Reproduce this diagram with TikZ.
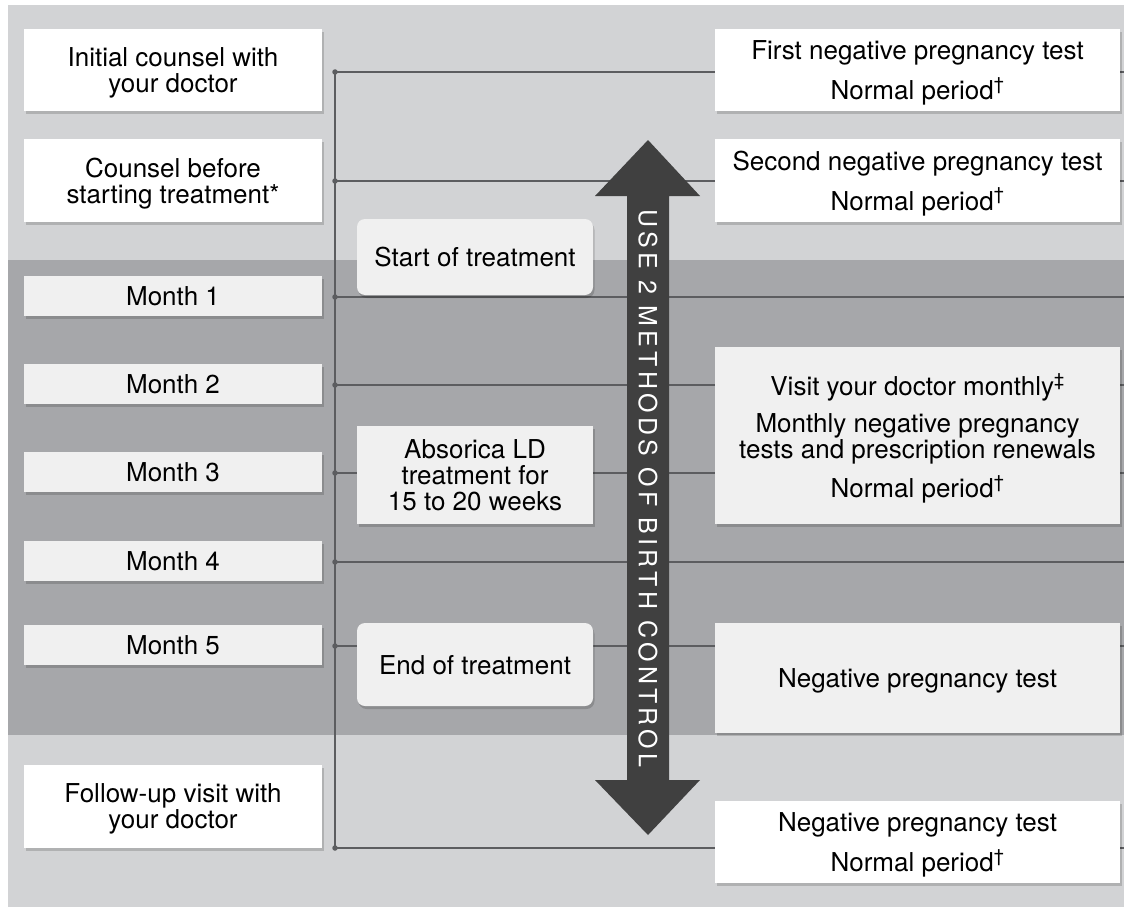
\documentclass[tikz,border=0pt]{standalone}
\usepackage{fontspec}
\setmainfont{TeX Gyre Heros}
\usetikzlibrary{shadows}
\definecolor{bglight}{HTML}{D2D3D5}
\definecolor{bgdark}{HTML}{A6A7AA}
\definecolor{boxgray}{HTML}{F0F0F0}
\definecolor{linegray}{HTML}{5C5D60}
\definecolor{arrowgray}{HTML}{404040}
\begin{document}
\begin{tikzpicture}[x=1pt,y=-1pt,
  box/.style={draw=none, align=center, inner sep=0pt, text depth=0pt,
    font=\fontsize{26}{26}\selectfont,
    drop shadow={shadow xshift=1.5pt, shadow yshift=-3pt, opacity=0.16, fill=black}},
  whitebox/.style={box, fill=white},
  graybox/.style={box, fill=boxgray},
  leftbox/.style={minimum width=298pt},
  midbox/.style={minimum width=236pt},
  rightbox/.style={minimum width=405pt},
  link/.style={draw=linegray, line width=1.4pt},
  dot/.style={circle, fill=linegray, inner sep=0pt, minimum size=5.5pt}
]
\useasboundingbox (0,0) rectangle (1124,907);
\fill[white] (0,0) rectangle (1124,907);
\fill[bglight] (8,5) rectangle (1124,907);
\fill[bgdark] (8,260) rectangle (1124,735);

% trunk and branch coordinates
\foreach \i/\y in {1/72,2/181,3/297,4/385,5/473,6/562,7/646,8/848}{
  \coordinate (t\i) at (335,\y);
  \coordinate (e\i) at (1124,\y);
}
\draw[link] (t1) -- (t8);
\foreach \i in {1,...,8}{
  \draw[link] (t\i) -- (e\i);
  \node[dot] at (t\i) {};
}

% left column
\node[whitebox,leftbox,minimum height=82pt] (l1) at (173,70) {Initial counsel with\\your doctor};
\node[whitebox,leftbox,minimum height=83pt] (l2) at (173,180.5) {Counsel before\\starting treatment*};
\node[graybox,leftbox,minimum height=40pt] (m1) at (173,296) {Month 1};
\node[graybox,leftbox,minimum height=40pt] (m2) at (173,384) {Month 2};
\node[graybox,leftbox,minimum height=40pt] (m3) at (173,472) {Month 3};
\node[graybox,leftbox,minimum height=40pt] (m4) at (173,561) {Month 4};
\node[graybox,leftbox,minimum height=40pt] (m5) at (173,645) {Month 5};
\node[whitebox,leftbox,minimum height=83pt] (lf) at (173,806.5) {Follow-up visit with\\your doctor};

% middle column
\node[graybox,midbox,minimum height=76pt,rounded corners=8pt] (start) at (475,257) {Start of treatment};
\node[graybox,midbox,minimum height=98pt] (abs) at (475,475) {Absorica LD\\treatment for\\15 to 20 weeks};
\node[graybox,midbox,minimum height=83pt,rounded corners=8pt] (end) at (475,664.5) {End of treatment};

% right column
\node[whitebox,rightbox,minimum height=82pt] (r1) at (917.5,70) {First negative pregnancy test\\[11pt]Normal period\textsuperscript{†}};
\node[whitebox,rightbox,minimum height=83pt] (r2) at (917.5,180.5) {Second negative pregnancy test\\[11pt]Normal period\textsuperscript{†}};
\node[graybox,rightbox,minimum height=177pt] (r3) at (917.5,435.5) {Visit your doctor monthly\textsuperscript{‡}\\[11pt]Monthly negative pregnancy\\tests and prescription renewals\\[11pt]Normal period\textsuperscript{†}};
\node[graybox,rightbox,minimum height=110pt] (r4) at (917.5,678) {Negative pregnancy test};
\node[whitebox,rightbox,minimum height=82pt] (r5) at (917.5,842) {Negative pregnancy test\\[11pt]Normal period\textsuperscript{†}};

% double arrow
\fill[arrowgray] (648,140) -- (700,196) -- (669,196) -- (669,780) -- (700,780) -- (648,835)
  -- (595,780) -- (627,780) -- (627,196) -- (595,196) -- cycle;
\node[text=white, rotate=-90, inner sep=0pt,
  font=\fontsize{25}{25}\selectfont\addfontfeature{LetterSpace=17}] (bc) at (648,488.5)
  {USE 2 METHODS OF BIRTH CONTROL};
\end{tikzpicture}
\end{document}
